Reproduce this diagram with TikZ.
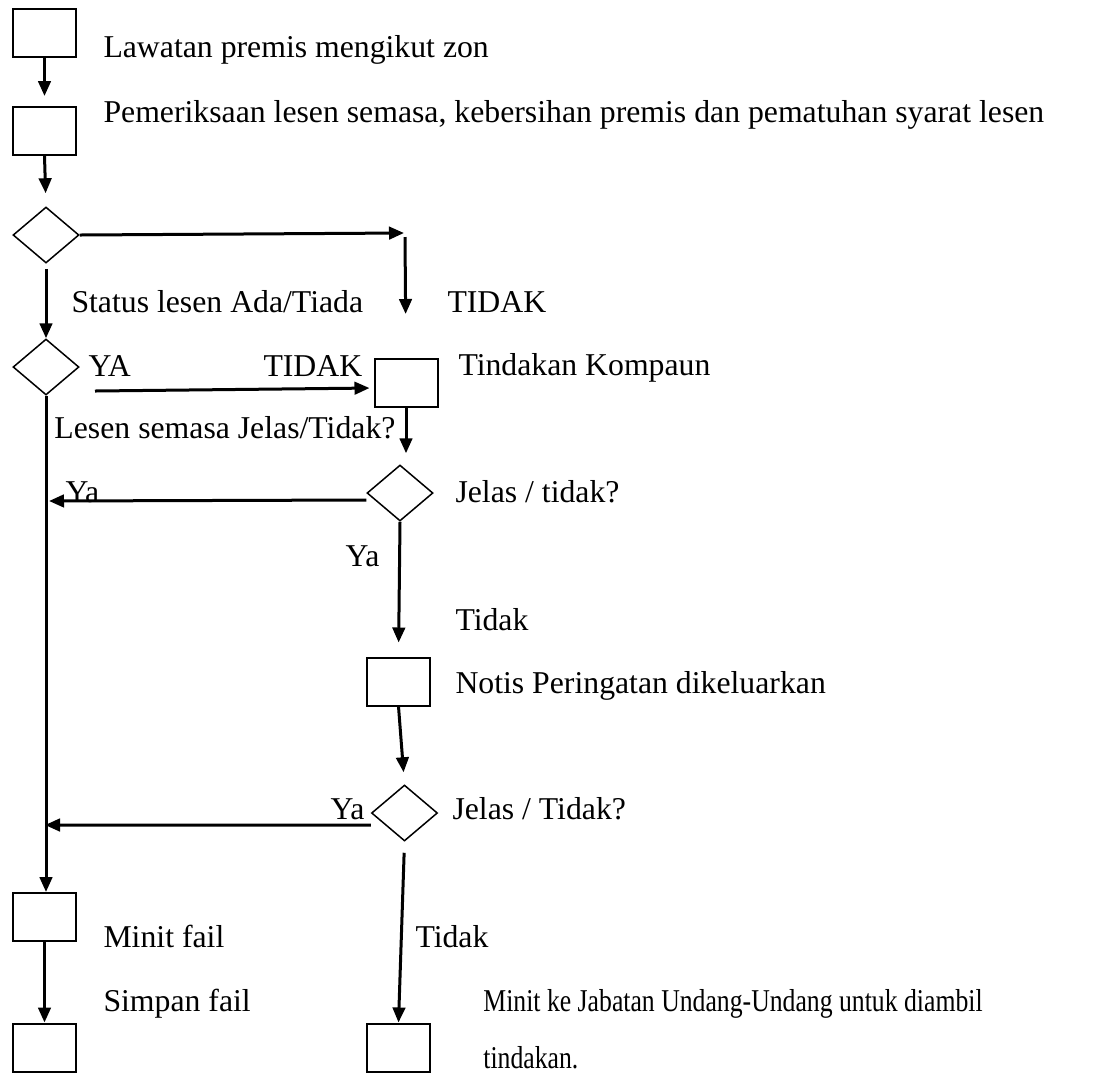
\documentclass[tikz,border=0pt]{standalone}
\usepackage{fontspec}
\setmainfont{Liberation Serif}
\usetikzlibrary{shapes.geometric,arrows.meta}

\begin{document}
\begin{tikzpicture}[x=0.4pt, y=-0.4pt,
  box/.style={draw, line width=0.8pt, minimum width=25.2pt, minimum height=19.2pt, inner sep=0pt},
  dia/.style={draw, diamond, line width=0.6pt, minimum width=26.4pt, minimum height=22.4pt, inner sep=0pt},
  arr/.style={line width=1.2pt, -{Triangle[length=6pt,width=5pt]}},
  lbl/.style={anchor=base west, inner sep=0pt, font=\fontsize{12.7}{15}\selectfont}]
  \useasboundingbox (0,0) rectangle (1119,1075);

  % Boxes and decisions
  \node[box] (visit) at (44.5,33) {};
  \node[box] (check) at (44.5,131) {};
  \node[dia] (status) at (46,235) {};
  \node[dia] (valid) at (46,367) {};
  \node[box] (compound) at (406,383) {};
  \node[dia] (clear1) at (400,493) {};
  \node[box] (notice) at (398.5,681.5) {};
  \node[dia] (clear2) at (404.5,813) {};
  \node[box] (minute) at (44.5,917) {};
  \node[box] (store) at (44.5,1047.5) {};
  \node[box] (legal) at (398.5,1047.5) {};

  % Free ends
  \coordinate (turn) at (404,233);
  \coordinate (down) at (405,237);
  \coordinate (yaStart) at (95,391);
  \coordinate (join1) at (49,501);
  \coordinate (join2) at (45,825);

  % Connectors
  \draw[arr, shorten >=4pt] (visit.south) -- (check.north);
  \draw[arr, shorten >=5.2pt] (check.south) -- (status.north);
  \draw[arr, shorten <=2pt] (status.south) -- (valid.north);
  \draw[arr] (status.east) -- (turn);
  \draw[arr, shorten >=17.6pt] (down) -- (compound.north);
  \draw[arr, shorten >=1.6pt] (yaStart) -- ([yshift=-2pt]compound.west);
  \draw[arr] (valid.south) -- (valid.south |- minute.north);
  \draw[arr, shorten >=4.4pt] (compound.south) -- (compound.south |- clear1.north);
  \draw[arr] ([yshift=-2.8pt]clear1.west) -- (join1);
  \draw[arr, shorten >=5.6pt] (clear1.south) -- (notice.north);
  \draw[arr, shorten >=4.8pt] (notice.south) -- (clear2.north);
  \draw[arr] ([yshift=-4.8pt]clear2.west) -- (join2);
  \draw[arr, shorten <=4.4pt] (clear2.south) -- (legal.north);
  \draw[arr] (minute.south) -- (store.north);

  % Labels
  \node[lbl] (tVisit) at (103,57) {Lawatan premis mengikut zon};
  \node[lbl] (tCheck) at (103,122) {Pemeriksaan lesen semasa, kebersihan premis dan pematuhan syarat lesen};
  \node[lbl] (tStatus) at (71,312) {Status lesen Ada/Tiada};
  \node[lbl] (tNo1) at (447,312) {TIDAK};
  \node[lbl] (tYes1) at (88,376) {YA};
  \node[lbl] (tNo2) at (263,376) {TIDAK};
  \node[lbl] (tCompound) at (458,375) {Tindakan Kompaun};
  \node[lbl] (tValid) at (54,438) {Lesen semasa Jelas/Tidak?};
  \node[lbl] (tYes2) at (65,502) {Ya};
  \node[lbl] (tClear1) at (455,502) {Jelas / tidak?};
  \node[lbl] (tYes3) at (345,566) {Ya};
  \node[lbl] (tNo3) at (455,630) {Tidak};
  \node[lbl] (tNotice) at (455,693) {Notis Peringatan dikeluarkan};
  \node[lbl] (tYes4) at (330,819) {Ya};
  \node[lbl] (tClear2) at (452,819) {Jelas / Tidak?};
  \node[lbl] (tNo4) at (415,947) {Tidak};
  \node[lbl] (tMinute) at (103,947) {Minit fail};
  \node[lbl] (tStore) at (103,1011) {Simpan fail};
  \node[lbl, xscale=0.81, transform shape] (tLegal) at (483,1011) {Minit ke Jabatan Undang-Undang untuk diambil};
  \node[lbl, xscale=0.81, transform shape] (tAction) at (483,1068) {tindakan.};
\end{tikzpicture}
\end{document}
